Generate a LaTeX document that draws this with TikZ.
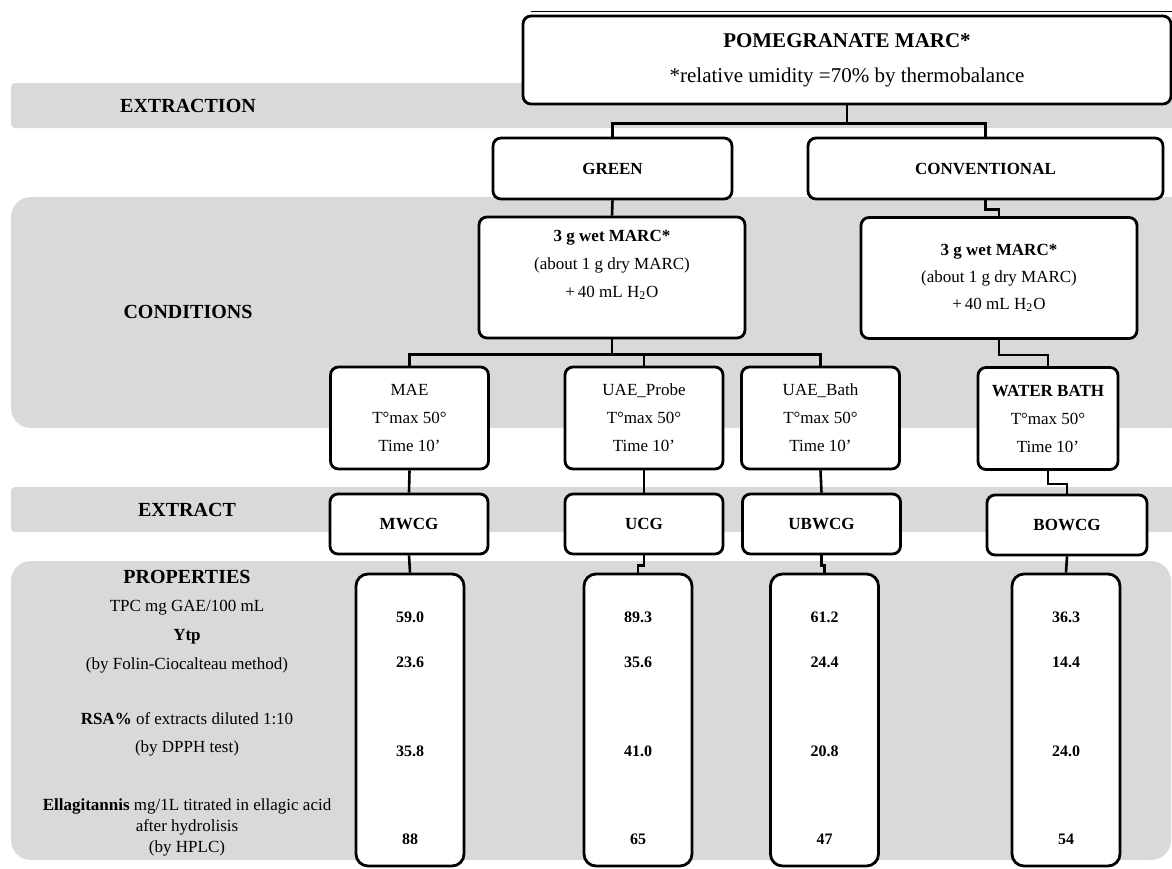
\documentclass[tikz,border=0pt]{standalone}
\usepackage{fontspec}
\setmainfont{Liberation Serif}
\usepackage{tikz}
\usetikzlibrary{positioning,calc}
\definecolor{band}{HTML}{D9D9D9}
\definecolor{shade}{HTML}{A6A6A6}
\tikzset{
  box/.style={draw=black,fill=white,line width=1.4pt,rounded corners=4pt,inner sep=2pt,align=center,font=\fontsize{8.5}{14}\selectfont},
  hbox/.style={box,minimum height=30.5pt,font=\fontsize{8.5}{10}\selectfont\bfseries},
  cbox/.style={box,minimum height=60.5pt},
  mbox/.style={box,minimum width=79pt,minimum height=51pt},
  xbox/.style={box,minimum width=79pt,minimum height=30pt,font=\fontsize{8.5}{10}\selectfont\bfseries},
  vbox/.style={box,minimum width=54pt,minimum height=146pt,rounded corners=6pt},
  lab/.style={align=center,font=\fontsize{10}{12}\selectfont\bfseries},
  plab/.style={align=center,font=\fontsize{8.5}{14.5}\selectfont},
  val/.style={font=\fontsize{8}{10}\selectfont\bfseries},
  link/.style={draw=black,line width=1.3pt},
}

\begin{document}
\begin{tikzpicture}[x=0.5pt,y=-0.5pt]
\useasboundingbox (0,0) rectangle (1172,868);
% grey bands
\fill[band,rounded corners=2pt] (11,83) rectangle (1190,128);
\fill[band,rounded corners=10pt] (11,197) rectangle (1190,428);
\fill[band,rounded corners=2pt] (11,487) rectangle (1190,532);
\fill[band,rounded corners=10pt] (11,561) rectangle (1171,860);
\draw[shade,line width=0.7pt] (531,11.5) -- (1172,11.5);

% row labels
\node[lab] (lextr) at (188,106) {EXTRACTION};
\node[lab] (lcond) at (188,312) {CONDITIONS};
\node[lab] (lextt) at (187,510) {EXTRACT};
\node[lab] (lprop) at (187,577) {PROPERTIES};
\node[plab] (ptpc) at (187,637) {TPC mg GAE/100 mL\\\textbf{Ytp}\\(by Folin-Ciocalteau method)};
\node[plab,font=\fontsize{8.5}{14}\selectfont] (prsa) at (187,734) {\textbf{RSA\%} of extracts diluted 1:10\\(by DPPH test)};
\node[plab,font=\fontsize{8.5}{10.5}\selectfont] (pell) at (187,827) {\textbf{Ellagitannis} mg/1L titrated in ellagic acid\\after hydrolisis\\(by HPLC)};

% tree
\node[box,minimum width=324pt,minimum height=44pt,font=\fontsize{10.5}{17.5}\selectfont] (marc) at (847,60) {\textbf{POMEGRANATE MARC*}\\{*}relative umidity =70\% by thermobalance};
\node[hbox,minimum width=119.5pt] (green) at (612.5,168.5) {GREEN};
\node[hbox,minimum width=177.5pt] (conv) at (985.5,168.5) {CONVENTIONAL};
\node[cbox,minimum width=133pt] (gcond) at (612,277.5) {\textbf{3 g wet MARC*}\\(about 1 g dry MARC)\\+\,40 mL H\textsubscript{2}O\\\mbox{}};
\node[cbox,minimum width=138pt,font=\fontsize{8.5}{13.5}\selectfont] (ccond) at (999,278) {\textbf{3 g wet MARC*}\\(about 1 g dry MARC)\\+\,40 mL H\textsubscript{2}O};
\node[mbox] (mae) at (409.5,418) {MAE\\T°max 50°\\Time 10'};
\node[mbox] (probe) at (644,418) {UAE\_Probe\\T°max 50°\\Time 10'};
\node[mbox] (bath) at (820.5,418) {UAE\_Bath\\T°max 50°\\Time 10'};
\node[mbox,minimum width=70pt] (water) at (1048,418.5) {\textbf{WATER BATH}\\T°max 50°\\Time 10'};
\node[xbox] (mwcg) at (409,524) {MWCG};
\node[xbox] (ucg) at (644,524) {UCG};
\node[xbox] (ubwcg) at (821.5,524) {UBWCG};
\node[xbox,minimum width=80pt] (bowcg) at (1067,525) {BOWCG};

% result columns
\foreach \x/\a/\b/\c/\d/\k in {410/59.0/23.6/35.8/88/1,638/89.3/35.6/41.0/65/2,824.5/61.2/24.4/20.8/47/3,1066/36.3/14.4/24.0/54/4}{
  \node[vbox] (res\k) at (\x,720) {};
  \node[val] (tpc\k) at (\x,617) {\a};
  \node[val] (ytp\k) at (\x,662) {\b};
  \node[val] (rsa\k) at (\x,751) {\c};
  \node[val] (ell\k) at (\x,839) {\d};
}

% connectors
\draw[link] (marc.south) -- ++(0,18) -| (green.north);
\draw[link] (marc.south) -- ++(0,18) -| (conv.north);
\draw[link] (green.south) -- (gcond.north);
\draw[link] (conv.south) -- ++(0,9) -| (ccond.north);
\draw[link] (gcond.south) -- ++(0,15) -| (mae.north);
\draw[link] (gcond.south) -- ++(0,15) -| (probe.north);
\draw[link] (gcond.south) -- ++(0,15) -| (bath.north);
\draw[link] (ccond.south) -- ++(0,15) -| (water.north);
\draw[link] (mae.south) -- (mwcg.north);
\draw[link] (probe.south) -- (ucg.north);
\draw[link] (bath.south) -- (ubwcg.north);
\draw[link] (water.south) -- ++(0,13) -| (bowcg.north);
\draw[link] (mwcg.south) -- (res1.north);
\draw[link] (ucg.south) -- ++(0,10) -| (res2.north);
\draw[link] (ubwcg.south) -- ++(0,10) -| (res3.north);
\draw[link] (bowcg.south) -- (res4.north);
\end{tikzpicture}
\end{document}
